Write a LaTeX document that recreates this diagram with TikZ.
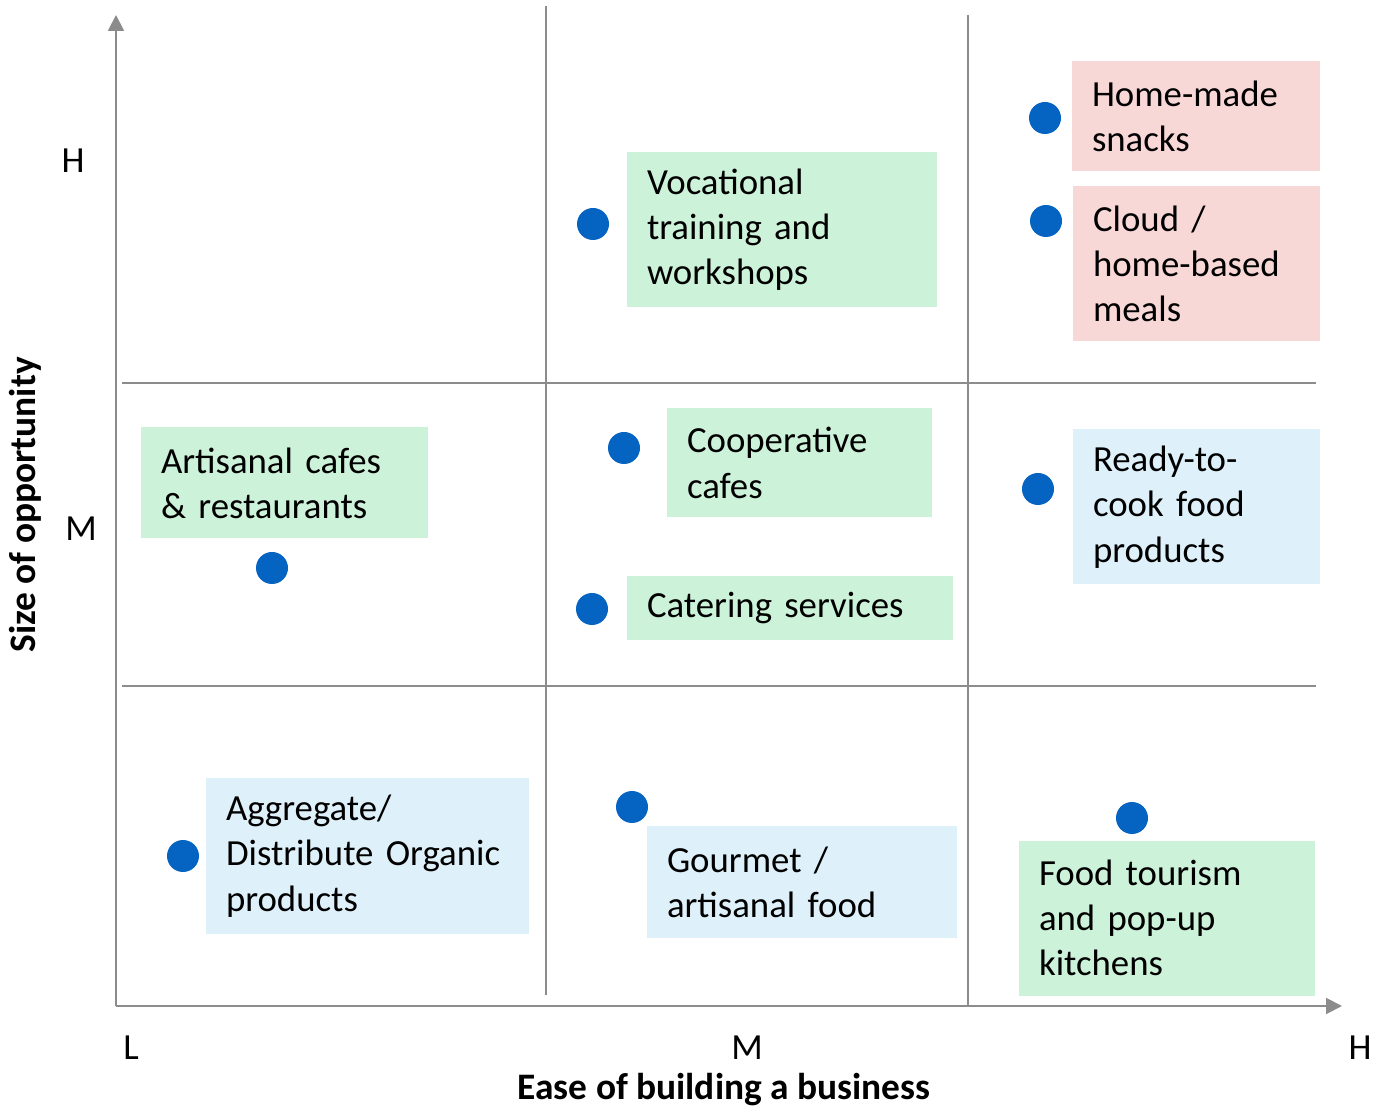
\documentclass[tikz,border=0pt]{standalone}
\usepackage{fontspec}
\setmainfont{Carlito}
\usepackage{xcolor}
\usetikzlibrary{arrows.meta}
\definecolor{ideagreen}{HTML}{CCF2D9}
\definecolor{ideapink}{HTML}{F8D7D7}
\definecolor{ideablue}{HTML}{DEF1FA}
\definecolor{dotblue}{HTML}{0563C1}
\definecolor{axisgray}{HTML}{8C8C8C}
\tikzset{
	axis/.style={draw=axisgray,line width=1pt,-{Triangle[length=8pt,width=8pt]}},
	grid line/.style={draw=axisgray,line width=0.9pt},
	idea/.style={font=\fontsize{18.4}{22.6}\selectfont,align=left,inner xsep=10pt,inner ysep=2pt,anchor=center},
	dot/.style={circle,fill=dotblue,minimum size=16pt,inner sep=0pt}
}
\begin{document}
\begin{tikzpicture}[x=0.5pt,y=-0.5pt]
	\useasboundingbox (0,0) rectangle (1377,1106);
	% axes
	\coordinate (O) at (116,1006);
	\coordinate (ytop) at (116,15);
	\coordinate (xend) at (1342,1006);
	\draw[axis] (O) -- (ytop);
	\draw[axis] (O) -- (xend);

	% grid of the nine fields
	\draw[grid line] (546,6) -- (546,995);
	\draw[grid line] (968,15) -- (968,1006);
	\draw[grid line] (122,383) -- (1316,383);
	\draw[grid line] (122,686) -- (1316,686);

	% axis marks
	\node[font=\fontsize{18.4}{22}\selectfont] (yH) at (73,161) {H};
	\node[font=\fontsize{18.4}{22}\selectfont] (yM) at (81,529) {M};
	\node[font=\fontsize{18.4}{22}\selectfont] (xL) at (131,1048) {L};
	\node[font=\fontsize{18.4}{22}\selectfont] (xM) at (747,1048) {M};
	\node[font=\fontsize{18.4}{22}\selectfont] (xH) at (1360,1048) {H};
	\node[font=\fontsize{18.7}{22}\selectfont\bfseries,rotate=90] (ylabel) at (25,505) {Size of opportunity};
	\node[font=\fontsize{18.7}{22}\selectfont\bfseries] (xlabel) at (724,1090) {Ease of building a business};

	% ideas, high opportunity
	\node[idea,fill=ideagreen,minimum width=155pt,minimum height=77.5pt,text width=135pt] (voc) at (782,229.5) {Vocational\\training and\\workshops};
	\node[idea,fill=ideapink,minimum width=124pt,minimum height=55pt,text width=104pt] (snack) at (1196,116.5) {Home-made\\snacks};
	\node[idea,fill=ideapink,minimum width=123.5pt,minimum height=77.5pt,text width=103.5pt] (cloud) at (1196.5,264) {Cloud /\\home-based\\meals};

	% ideas, medium opportunity
	\node[idea,fill=ideagreen,minimum width=143.5pt,minimum height=55.5pt,text width=123.5pt] (cafe) at (284.5,483) {Artisanal cafes\\\& restaurants};
	\node[idea,fill=ideagreen,minimum width=132.5pt,minimum height=54.5pt,text width=112.5pt] (coop) at (799.5,463) {Cooperative\\cafes};
	\node[idea,fill=ideagreen,minimum width=163pt,minimum height=32pt,text width=143pt] (cater) at (790,608.5) {Catering services};
	\node[idea,fill=ideablue,minimum width=123.5pt,minimum height=77.5pt,text width=103.5pt] (ready) at (1196.5,507) {Ready-to-\\cook food\\products};

	% ideas, low opportunity
	\node[idea,fill=ideablue,minimum width=161.5pt,minimum height=77.5pt,text width=141.5pt] (organic) at (367.5,856) {Aggregate/\\Distribute Organic\\products};
	\node[idea,fill=ideablue,minimum width=155pt,minimum height=55.5pt,text width=135pt] (gourmet) at (802,882) {Gourmet /\\artisanal food};
	\node[idea,fill=ideagreen,minimum width=148pt,minimum height=77.5pt,text width=128pt] (tour) at (1167,918) {Food tourism\\and pop-up\\kitchens};

	% position marks
	\node[dot] (d1) at (593,224) {};
	\node[dot] (d2) at (1045,118) {};
	\node[dot] (d3) at (1046,221) {};
	\node[dot] (d4) at (272,568) {};
	\node[dot] (d5) at (624,448) {};
	\node[dot] (d6) at (592,609) {};
	\node[dot] (d7) at (1038,489) {};
	\node[dot] (d8) at (183,856) {};
	\node[dot] (d9) at (632,807) {};
	\node[dot] (d10) at (1132,818) {};
\end{tikzpicture}
\end{document}
